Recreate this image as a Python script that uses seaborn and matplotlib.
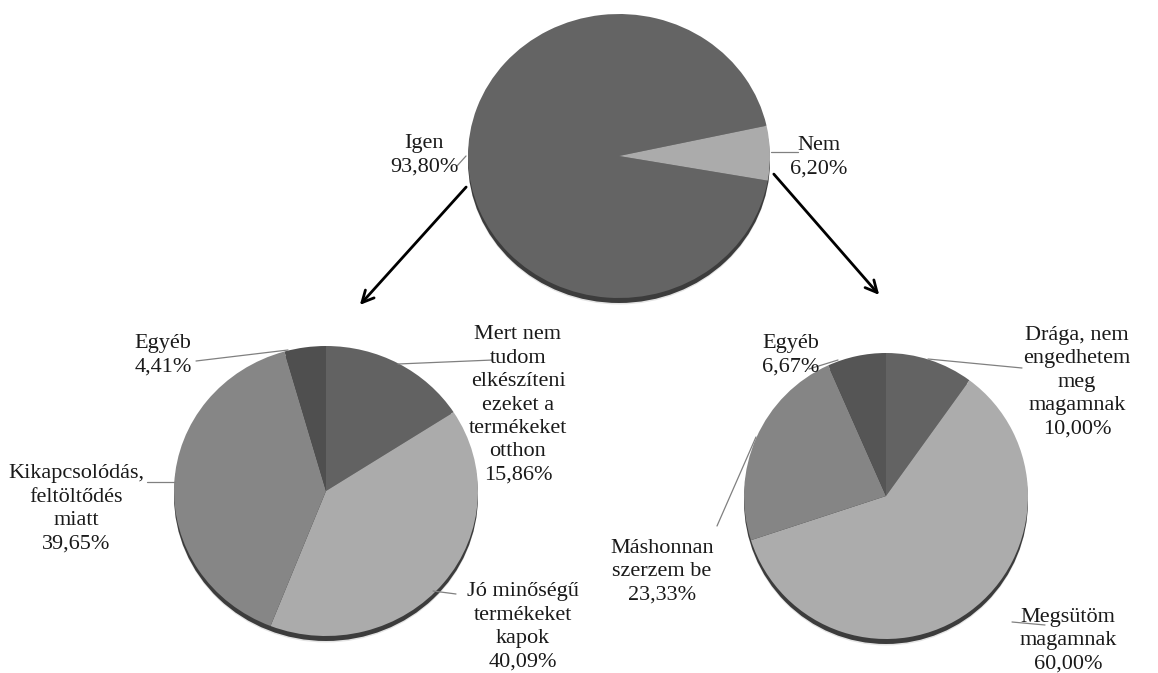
import matplotlib
matplotlib.use("Agg")
import matplotlib.pyplot as plt
from matplotlib.patches import Ellipse
from matplotlib.font_manager import FontProperties, findfont
import seaborn as sns

sns.set_theme(style="white")
serif_names = ["Liberation Serif", "Times New Roman", "DejaVu Serif"]
plt.rcParams["font.family"] = "serif"
plt.rcParams["font.serif"] = serif_names

font_path = findfont(FontProperties(family=serif_names), fallback_to_default=False)
if "Serif" not in font_path:
    raise RuntimeError("serif font not resolved: " + font_path)

W, H = 1158, 673

# --- data -----------------------------------------------------------------
top_labels = ["Igen", "Nem"]
top_values = [93.80, 6.20]

left_labels = ["Mert nem\ntudom\nelkészíteni\nezeket a\ntermékeket\notthon",
               "Jó minőségű\ntermékeket\nkapok",
               "Kikapcsolódás,\nfeltöltődés\nmiatt",
               "Egyéb"]
left_values = [15.86, 40.09, 39.65, 4.41]

right_labels = ["Drága, nem\nengedhetem\nmeg\nmagamnak",
                "Megsütöm\nmagamnak",
                "Máshonnan\nszerzem be",
                "Egyéb"]
right_values = [10.00, 60.00, 23.33, 6.67]

top_colors = ["#646464", "#ababab"]
left_colors = ["#626262", "#ababab", "#868686", "#4f4f4f"]
right_colors = ["#636363", "#acacac", "#858585", "#555555"]


def pct(v):
    return f"{v:.2f}%".replace(".", ",")


fig = plt.figure(figsize=(W / 100, H / 100), dpi=100)
fig.patch.set_facecolor("white")


def draw_pie(values, colors, cx, cy, rx, ry, start):
    pad = 14
    ax = fig.add_axes([(cx - rx - pad) / W, 1 - (cy + ry + pad) / H,
                       (2 * rx + 2 * pad) / W, (2 * ry + 2 * pad) / H])
    # dark rim underneath for the raised look
    ax.add_patch(Ellipse((0, -6 / ry), 2, 2 + 1 / ry, color="#e4e4e4", lw=0, zorder=0))
    ax.add_patch(Ellipse((0, -5 / ry), 2, 2, color="#3c3c3c", lw=0, zorder=0.5))
    wedges, _ = ax.pie(values, colors=colors, startangle=start, counterclock=False,
                       radius=1, wedgeprops=dict(linewidth=0))
    for w in wedges:
        w.set_zorder(2)
    ax.set_aspect("auto")
    ax.set_xlim(-1 - pad / rx, 1 + pad / rx)
    ax.set_ylim(-1 - pad / ry, 1 + pad / ry)
    ax.axis("off")
    return ax


draw_pie(top_values, top_colors, 619, 156, 151, 142, -10)
draw_pie(left_values, left_colors, 326, 491, 152, 145, 90)
draw_pie(right_values, right_colors, 886, 496, 142, 143, 90)

# overlay in pixel coordinates for labels, leader lines and arrows
ov = fig.add_axes([0, 0, 1, 1], zorder=10)
ov.set_xlim(0, W)
ov.set_ylim(H, 0)
ov.axis("off")
ov.patch.set_alpha(0)

fs = 16
lead = dict(color="#808080", lw=0.9)


def label(x, y, name, value):
    ov.text(x, y, f"{name}\n{pct(value)}", ha="center", va="center",
            fontsize=fs, linespacing=1.32, color="#1a1a1a",
            fontproperties=FontProperties(fname=font_path, size=fs))


# top pie
label(424, 155, top_labels[0], top_values[0])
ov.plot([457, 466], [166, 156], **lead)
label(819, 157, top_labels[1], top_values[1])
ov.plot([771, 798], [152, 152], **lead)

# left pie
label(518, 405, left_labels[0], left_values[0])
ov.plot([398, 493], [364, 360], **lead)
label(523, 627, left_labels[1], left_values[1])
ov.plot([433, 456], [591, 594], **lead)
label(76, 509, left_labels[2], left_values[2])
ov.plot([147, 175], [482, 482], **lead)
label(163, 355, left_labels[3], left_values[3])
ov.plot([196, 288], [361, 350], **lead)

# right pie
label(1077, 382, right_labels[0], right_values[0])
ov.plot([928, 1022], [359, 368], **lead)
label(1068, 641, right_labels[1], right_values[1])
ov.plot([1012, 1045], [622, 625], **lead)
label(662, 572, right_labels[2], right_values[2])
ov.plot([717, 756], [526, 437], **lead)
label(791, 355, right_labels[3], right_values[3])
ov.plot([809, 838], [369, 360], **lead)

# arrows from the top pie to the breakdowns
arrow = dict(arrowstyle="->,head_length=0.7,head_width=0.35", color="black", lw=2)
ov.annotate("", xy=(358, 307), xytext=(468, 185), arrowprops=arrow)
ov.annotate("", xy=(881, 297), xytext=(772, 172), arrowprops=arrow)

fig.savefig("out.png", dpi=100, facecolor="white")
